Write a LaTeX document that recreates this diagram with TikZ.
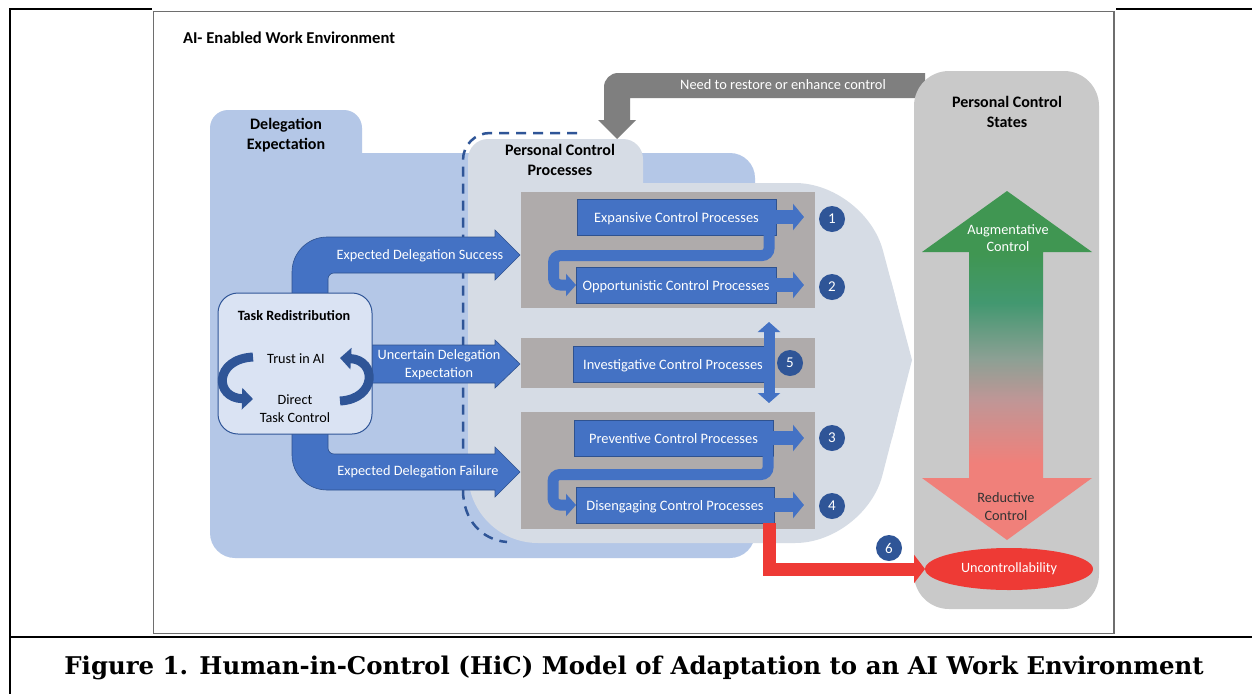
\documentclass[tikz,border=0pt]{standalone}
\usepackage{fontspec}
\setmainfont{Carlito}
\newfontfamily\capfont{DejaVu Serif}
\usetikzlibrary{arrows.meta,calc,shapes.geometric}
\definecolor{delbg}{HTML}{B4C7E7}
\definecolor{pcpbg}{HTML}{D6DCE5}
\definecolor{procgray}{HTML}{AFABAB}
\definecolor{pblue}{HTML}{4472C4}
\definecolor{pbord}{HTML}{2F528F}
\definecolor{dblue}{HTML}{2F5597}
\definecolor{arrgray}{HTML}{7F7F7F}
\definecolor{pcsgray}{HTML}{C9C9C9}
\definecolor{taskbg}{HTML}{DAE3F3}
\definecolor{framegray}{HTML}{6E6E6E}
\definecolor{cGreen}{RGB}{64,150,82}
\definecolor{cTeal}{RGB}{66,152,112}
\definecolor{cMidA}{RGB}{140,160,148}
\definecolor{cMidB}{RGB}{192,150,150}
\definecolor{cSal}{RGB}{240,128,122}
\definecolor{cRed}{RGB}{238,58,53}
\pgfdeclareverticalshading{ctrlgrad}{100bp}{color(0bp)=(cSal); color(36bp)=(cSal); color(45bp)=(cMidB); color(51bp)=(cMidA); color(59bp)=(cTeal); color(66bp)=(cGreen); color(100bp)=(cGreen)}
\begin{document}
\begin{tikzpicture}[x=1pt,y=-1pt,
  every node/.style={inner sep=0pt, outer sep=0pt},
  ttl/.style={font=\fontsize{16}{19.5}\selectfont\bfseries, align=center},
  lbl/.style={font=\fontsize{14.3}{17.5}\selectfont, align=center},
  wlbl/.style={lbl, text=white},
  procbox/.style={draw=pbord, line width=0.8pt, fill=pblue, text=white, font=\fontsize{14.4}{16}\selectfont, minimum height=36pt, text depth=0pt},
  graybox/.style={fill=procgray},
  numc/.style={circle, fill=dblue, text=white, minimum size=26pt, font=\fontsize{15}{15}\selectfont},
  rarrow/.style={draw=pblue, line width=14pt, -{Triangle[width=26pt,length=11pt]}},
  conn/.style={draw=pblue, line width=11pt, rounded corners=7pt, -{Triangle[width=22pt,length=10pt]}},
  dblarr/.style={draw=pblue, line width=11pt, {Triangle[width=22pt,length=10pt]}-{Triangle[width=22pt,length=10pt]}},
  curvarr/.style={draw=dblue, line width=9pt, -{Triangle[width=21pt,length=11pt]}},
  bigarrow/.style={fill=pblue, draw=pbord, line width=0.6pt},
  outerline/.style={draw=black, line width=2pt}
]
\useasboundingbox (0,0) rectangle (1252,694);
\fill[white] (0,0) rectangle (1252,694);

% outer table lines
\draw[outerline] (10,9) -- (152,9);
\draw[outerline] (1116,9) -- (1252,9);
\draw[outerline] (10,8) -- (10,694);
\draw[outerline] (10,637) -- (1252,637);
% inner picture frame
\draw[framegray, line width=1.5pt] (153.5,11.5) rectangle (1114,633.5);

\node[font=\fontsize{16.6}{19}\selectfont\bfseries, anchor=west] (env) at (183,37.5) {AI- Enabled Work Environment};

% feedback arrow
\fill[arrgray] (925,73) -- (618,73) .. controls (610.3,73) and (604,79.3) .. (604,87) -- (604,120) -- (598,120) -- (617,139) -- (636,120) -- (630,120) -- (630,98) -- (925,98) -- cycle;
\node[font=\fontsize{14.4}{16}\selectfont, text=white] (fbl) at (783,84.5) {Need to restore or enhance control};

% delegation expectation region
\fill[delbg, rounded corners=18pt] (210,110) rectangle (362,200);
\fill[delbg, rounded corners=25pt] (210,153) rectangle (755,558);
\node[ttl] (delt) at (286,135) {Delegation\\Expectation};

% personal control processes region
\fill[pcpbg, rounded corners=20pt] (468,139) rectangle (643,260);
\fill[pcpbg, rounded corners=70pt] (468,183) -- (865,183) -- (912,360) -- (865,543) -- (468,543) -- cycle;
\fill[pcpbg] (912,360) -- (890.8,280) -- (891.5,440) -- cycle;
\fill[pcpbg] (468,400) rectangle (520,450);
\node[ttl] (pcpt) at (560,160) {Personal Control\\Processes};
\draw[dblue, line width=2.5pt, dash pattern=on 10pt off 7pt] (577,133) -- (490,133) .. controls (475,133) and (463,145) .. (463,160) -- (463,490) .. controls (463,520) and (482,540) .. (507,542);

% gray process panels
\fill[graybox] (521,192) rectangle (815,308);
\fill[graybox] (521,338) rectangle (815,388);
\fill[graybox] (521,412) rectangle (815,529);

% delegation arrows
\fill[bigarrow] (292,300) -- (292,272) .. controls (292,252.7) and (307.7,237) .. (327,237) -- (495,237) -- (495,230) -- (520,255) -- (495,280) -- (495,273) -- (334,273) .. controls (330.7,273) and (328,275.7) .. (328,279) -- (328,300) -- cycle;
\fill[bigarrow] (292,427) -- (292,455) .. controls (292,474.3) and (307.7,490) .. (327,490) -- (495,490) -- (495,497) -- (520,472) -- (495,447) -- (495,454) -- (334,454) .. controls (330.7,454) and (328,451.3) .. (328,448) -- (328,427) -- cycle;
\fill[bigarrow] (372,345) -- (495,345) -- (495,340) -- (520,364) -- (495,388) -- (495,383) -- (372,383) -- cycle;
\node[wlbl] (succ) at (420,255.5) {Expected Delegation Success};
\node[wlbl] (fail) at (418,472) {Expected Delegation Failure};
\node[wlbl] (unc) at (439,364.5) {Uncertain Delegation\\Expectation};

% task redistribution box
\node[draw=dblue, fill=taskbg, rounded corners=20pt, line width=1pt, minimum width=154pt, minimum height=141pt] (task) at (295,363.5) {};
\node[font=\fontsize{14.2}{16}\selectfont\bfseries] (trt) at (294,315.5) {Task Redistribution};
\node[font=\fontsize{14.2}{16}\selectfont] (trust) at (296,358.5) {Trust in AI};
\node[font=\fontsize{14.2}{18}\selectfont, align=center] (direct) at (295,408.5) {Direct\\Task Control};
\coordinate (la1) at (253,357);
\coordinate (la2) at (253,399);
\coordinate (ra1) at (340,401);
\coordinate (ra2) at (340,358);
\draw[curvarr] (la1) .. controls (214,359) and (214,398) .. (la2);
\draw[curvarr] (ra1) .. controls (377,399) and (377,360) .. (ra2);

% process boxes
\node[procbox, minimum width=199pt] (exp) at (676.5,217) {Expansive Control Processes};
\node[procbox, minimum width=200pt] (opp) at (676,285) {Opportunistic Control Processes};
\node[procbox, minimum width=200pt] (inv) at (673,364) {Investigative Control Processes};
\node[procbox, minimum width=199pt] (pre) at (673.5,438) {Preventive Control Processes};
\node[procbox, minimum width=198pt] (dis) at (675,505) {Disengaging Control Processes};

\node[numc] (n1) at (832,219) {1};
\node[numc] (n2) at (832,287) {2};
\node[numc] (n3) at (832,438) {3};
\node[numc] (n4) at (832,506) {4};
\node[numc] (n5) at (790,363) {5};
\node[numc] (n6) at (889,548) {6};

\draw[rarrow] (exp.east) -- ++(28,0);
\draw[rarrow] (opp.east) -- ++(28,0);
\draw[rarrow] (pre.east) -- ++(31,0);
\draw[rarrow] (dis.east) -- ++(30,0);
\draw[conn] ($(exp.south east)+(-7,0)$) -- ++(0,20.5) -- ++(-215.5,0) |- (opp.west);
\draw[conn] ($(pre.south east)+(-5,0)$) -- ++(0,18.5) -- ++(-215,0) |- (dis.west);
\draw[dblarr] ($(inv.east)+(-4,-42)$) -- ($(inv.east)+(-4,39)$);

% personal control states
\fill[pcsgray, rounded corners=35pt] (914,71) rectangle (1099,609);
\node[ttl] (pcst) at (1007,112) {Personal Control\\States};
\shade[shading=ctrlgrad] (1007,191) -- (1092,252) -- (1043,252) -- (1043,478) -- (1092,478) -- (1007,540) -- (922,478) -- (969,478) -- (969,252) -- (922,252) -- cycle;
\node[lbl, text=white] (aug) at (1008,238) {Augmentative\\Control};
\node[lbl, text=black!80] (red) at (1006,506.5) {Reductive\\Control};
\node[ellipse, fill=cRed, minimum width=168pt, minimum height=42pt, text=white, font=\fontsize{14.2}{16}\selectfont] (uncl) at (1009,569) {Uncontrollability};
\draw[cRed, line width=13pt, -{Triangle[width=28pt,length=11pt]}] ($(dis.south east)+(-5,0)$) |- (uncl.west);

% caption
\node[font=\capfont\bfseries\fontsize{24.4}{28}\selectfont] (cap) at (634,668) {Figure 1. Human-in-Control (HiC) Model of Adaptation to an AI Work Environment};
\end{tikzpicture}
\end{document}
